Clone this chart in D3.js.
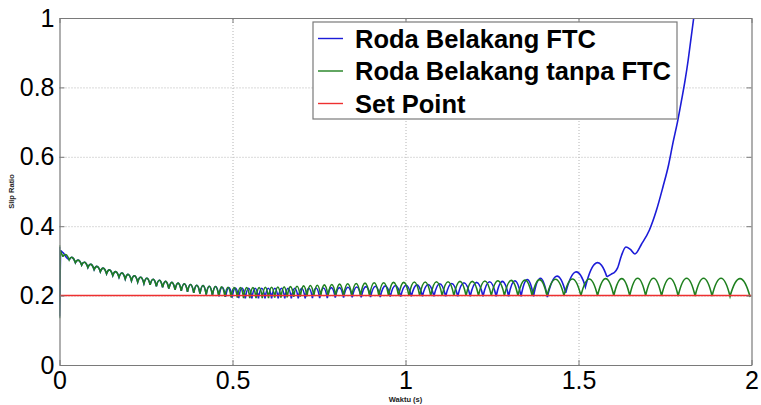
<!DOCTYPE html>
<html>
<head>
<meta charset="utf-8">
<script src="https://cdn.jsdelivr.net/npm/d3@7"></script>
<style>
  body { margin: 0; background: #fff; }
  svg { display: block; }
  text { font-family: "Liberation Sans", Arial, Helvetica, sans-serif; }
</style>
</head>
<body>
<svg id="chart" width="761" height="405"></svg>
<script>
// Axis ticks
const xTicks = [0, 0.5, 1, 1.5, 2];
const yTicks = [0, 0.2, 0.4, 0.6, 0.8, 1];

// Series names (legend order = drawing order)
const seriesNames = ["Roda Belakang FTC", "Roda Belakang tanpa FTC", "Set Point"];
const seriesColors = ["#1c1cd8", "#1f801f", "#ee3030"];

// Set point
const setPoint = [[0, 0.2], [2, 0.2]];

// Initial transient, drawn point to point: [time, slip]
const greenStart = [[0, 0.345], [0, 0.135], [0.002, 0.33], [0.010, 0.312]];
const blueStart = [[0, 0.34], [0, 0.14], [0.003, 0.33], [0.012, 0.322], [0.020, 0.31], [0.028, 0.303]];

// Oscillation cycles: [trough time, trough slip, following peak slip]
const greenCycles = [
  [0.010, 0.312, 0.318], [0.028, 0.303, 0.310], [0.046, 0.295, 0.302], [0.064, 0.288, 0.296],
  [0.082, 0.281, 0.290], [0.100, 0.275, 0.284], [0.118, 0.269, 0.279], [0.136, 0.263, 0.274],
  [0.154, 0.258, 0.269], [0.172, 0.253, 0.265], [0.190, 0.248, 0.261], [0.208, 0.243, 0.257],
  [0.226, 0.239, 0.253], [0.244, 0.235, 0.250], [0.262, 0.231, 0.247], [0.280, 0.227, 0.244],
  [0.298, 0.224, 0.241], [0.316, 0.220, 0.238], [0.334, 0.217, 0.236], [0.352, 0.214, 0.234],
  [0.370, 0.211, 0.232], [0.388, 0.208, 0.230], [0.406, 0.206, 0.229], [0.424, 0.203, 0.227],
  [0.442, 0.201, 0.226], [0.460, 0.199, 0.225], [0.478, 0.197, 0.224], [0.496, 0.195, 0.223],
  [0.514, 0.194, 0.223], [0.532, 0.193, 0.223], [0.550, 0.193, 0.223], [0.568, 0.193, 0.223],
  [0.586, 0.193, 0.224], [0.604, 0.193, 0.224], [0.622, 0.194, 0.225], [0.640, 0.194, 0.225],
  [0.658, 0.195, 0.226], [0.677, 0.196, 0.227], [0.696, 0.197, 0.228], [0.715, 0.198, 0.229],
  [0.735, 0.199, 0.230], [0.755, 0.200, 0.231], [0.776, 0.200, 0.232], [0.798, 0.200, 0.233],
  [0.821, 0.200, 0.234], [0.845, 0.200, 0.235], [0.870, 0.200, 0.236], [0.896, 0.200, 0.237],
  [0.923, 0.200, 0.237], [0.951, 0.200, 0.238], [0.980, 0.200, 0.238], [1.010, 0.200, 0.239],
  [1.041, 0.200, 0.239], [1.073, 0.200, 0.240], [1.106, 0.200, 0.240], [1.140, 0.200, 0.241],
  [1.175, 0.200, 0.241], [1.211, 0.200, 0.242], [1.248, 0.200, 0.243], [1.286, 0.200, 0.244],
  [1.325, 0.200, 0.245], [1.366, 0.200, 0.246], [1.409, 0.200, 0.247], [1.458, 0.200, 0.248],
  [1.507, 0.200, 0.248], [1.555, 0.200, 0.249], [1.602, 0.200, 0.249], [1.648, 0.200, 0.250],
  [1.694, 0.200, 0.250], [1.740, 0.199, 0.250], [1.788, 0.199, 0.250], [1.837, 0.199, 0.250],
  [1.886, 0.199, 0.250], [1.938, 0.198, 0.249], [1.996, 0.196, null]
];

const blueCycles = [
  [0.028, 0.303, 0.310], [0.046, 0.295, 0.302], [0.064, 0.288, 0.296],
  [0.082, 0.281, 0.290], [0.100, 0.275, 0.284], [0.118, 0.269, 0.279], [0.136, 0.263, 0.274],
  [0.154, 0.258, 0.269], [0.172, 0.253, 0.265], [0.190, 0.248, 0.261], [0.208, 0.243, 0.257],
  [0.226, 0.239, 0.253], [0.244, 0.235, 0.250], [0.262, 0.231, 0.247], [0.280, 0.227, 0.244],
  [0.298, 0.224, 0.241], [0.316, 0.220, 0.238], [0.334, 0.217, 0.236], [0.352, 0.214, 0.234],
  [0.370, 0.211, 0.232], [0.388, 0.208, 0.230], [0.406, 0.206, 0.229], [0.424, 0.203, 0.227],
  [0.442, 0.201, 0.226], [0.461, 0.198, 0.224], [0.480, 0.196, 0.223], [0.499, 0.194, 0.222],
  [0.518, 0.193, 0.222], [0.537, 0.192, 0.221], [0.556, 0.192, 0.221], [0.575, 0.192, 0.221],
  [0.594, 0.192, 0.221], [0.613, 0.192, 0.221], [0.632, 0.192, 0.221], [0.651, 0.192, 0.221],
  [0.670, 0.192, 0.221], [0.690, 0.192, 0.221], [0.710, 0.192, 0.221], [0.731, 0.193, 0.222],
  [0.752, 0.193, 0.222], [0.774, 0.193, 0.223], [0.797, 0.194, 0.223], [0.821, 0.194, 0.224],
  [0.846, 0.195, 0.225], [0.872, 0.195, 0.226], [0.899, 0.196, 0.227], [0.927, 0.196, 0.228],
  [0.956, 0.197, 0.229], [0.986, 0.197, 0.230], [1.017, 0.198, 0.231], [1.049, 0.198, 0.232],
  [1.082, 0.198, 0.234], [1.116, 0.198, 0.235], [1.151, 0.198, 0.237], [1.187, 0.198, 0.238],
  [1.224, 0.198, 0.240], [1.262, 0.198, 0.241], [1.298, 0.198, 0.243], [1.334, 0.198, 0.246],
  [1.370, 0.198, 0.250], [1.410, 0.196, 0.256], [1.463, 0.208, 0.268], [1.520, 0.225, 0.294],
  [1.582, 0.254, null]
];

// Final divergence of the FTC wheel: [time, slip]
const blueRise = [
  [1.582, 0.254], [1.595, 0.262], [1.605, 0.268], [1.613, 0.280], [1.624, 0.315],
  [1.637, 0.340], [1.650, 0.333], [1.663, 0.320], [1.682, 0.348], [1.705, 0.389],
  [1.725, 0.445], [1.744, 0.513], [1.760, 0.575], [1.773, 0.640], [1.786, 0.700],
  [1.798, 0.764], [1.808, 0.820], [1.817, 0.879], [1.825, 0.940], [1.833, 1.000], [1.838, 1.040]
];

const svg = d3.select("#chart");
const plot = { left: 59.5, right: 751.5, top: 18, bottom: 365 };
const x = d3.scaleLinear().domain([0, 2]).range([plot.left, plot.right]);
const y = d3.scaleLinear().domain([0, 1]).range([plot.bottom, plot.top]);
const W = plot.right - plot.left, H = plot.bottom - plot.top;

svg.append("rect").attr("width", 761).attr("height", 405).attr("fill", "#fff");

svg.append("clipPath").attr("id", "plotClip")
  .append("rect").attr("x", plot.left).attr("y", plot.top).attr("width", W).attr("height", H);

// Dotted grid
const grid = svg.append("g").attr("class", "grid");
grid.append("g").attr("transform", `translate(0,${plot.bottom})`)
  .call(d3.axisBottom(x).tickValues(xTicks.slice(1, -1)).tickSize(-H).tickFormat(""));
grid.append("g").attr("transform", `translate(${plot.left},0)`)
  .call(d3.axisLeft(y).tickValues(yTicks.slice(1, -1)).tickSize(-W).tickFormat(""));
grid.selectAll(".domain").remove();
grid.selectAll("line").attr("stroke", "#b4b4b4").attr("stroke-width", 1).attr("stroke-dasharray", "1,2");

// Series
const lines = svg.append("g").attr("clip-path", "url(#plotClip)").attr("fill", "none");
const linear = d3.line().x(d => x(d[0])).y(d => y(d[1]));
const smooth = d3.line().x(d => x(d[0])).y(d => y(d[1])).curve(d3.curveMonotoneX);

// Each cycle is drawn as an arch from trough to trough passing through the peak
function archPath(cycles) {
  const p = d3.path();
  p.moveTo(x(cycles[0][0]), y(cycles[0][1]));
  for (let i = 0; i < cycles.length - 1; i++) {
    const x0 = x(cycles[i][0]), y0 = y(cycles[i][1]);
    const x2 = x(cycles[i + 1][0]), y2 = y(cycles[i + 1][1]);
    const xm = (x0 + x2) / 2, ym = y(cycles[i][2]);
    p.quadraticCurveTo(xm, 2 * ym - (y0 + y2) / 2, x2, y2);
  }
  return p.toString();
}

const lw = 1.6;
// Roda Belakang FTC
lines.append("path").attr("d", linear(blueStart)).attr("stroke", seriesColors[0]).attr("stroke-width", lw);
lines.append("path").attr("d", archPath(blueCycles)).attr("stroke", seriesColors[0]).attr("stroke-width", lw);
lines.append("path").attr("d", smooth(blueRise)).attr("stroke", seriesColors[0]).attr("stroke-width", lw);
// Roda Belakang tanpa FTC
lines.append("path").attr("d", linear(greenStart)).attr("stroke", seriesColors[1]).attr("stroke-width", lw);
lines.append("path").attr("d", archPath(greenCycles)).attr("stroke", seriesColors[1]).attr("stroke-width", lw);
// Set Point
lines.append("path").attr("d", linear(setPoint)).attr("stroke", seriesColors[2]).attr("stroke-width", 1.5);

// Box and axes with inward ticks
const frameColor = "#7a7a7a";
const axes = svg.append("g");
axes.append("g").attr("transform", `translate(0,${plot.bottom})`)
  .call(d3.axisBottom(x).tickValues(xTicks).tickSizeInner(-5).tickSizeOuter(0).tickPadding(6).tickFormat(d3.format("~g")));
axes.append("g").attr("transform", `translate(0,${plot.top})`)
  .call(d3.axisTop(x).tickValues(xTicks).tickSizeInner(-5).tickSizeOuter(0).tickFormat(""));
axes.append("g").attr("transform", `translate(${plot.left},0)`)
  .call(d3.axisLeft(y).tickValues(yTicks).tickSizeInner(-5).tickSizeOuter(0).tickPadding(5).tickFormat(d3.format("~g")));
axes.append("g").attr("transform", `translate(${plot.right},0)`)
  .call(d3.axisRight(y).tickValues(yTicks).tickSizeInner(-5).tickSizeOuter(0).tickFormat(""));
axes.selectAll(".domain").attr("stroke", frameColor).attr("stroke-width", 1.2);
axes.selectAll(".tick line").attr("stroke", frameColor);
axes.selectAll(".tick text").attr("font-family", '"Liberation Sans", Arial, sans-serif')
  .attr("font-size", 25).attr("fill", "#000");

// Axis titles
svg.append("text").attr("x", x(1)).attr("y", 402).attr("text-anchor", "middle")
  .attr("font-size", 7.5).attr("font-weight", "bold").attr("fill", "#222").text("Waktu (s)");
svg.append("text").attr("transform", `translate(14,${(plot.top + plot.bottom) / 2}) rotate(-90)`)
  .attr("text-anchor", "middle").attr("font-size", 7.5).attr("font-weight", "bold").attr("fill", "#222").text("Slip Ratio");

// Legend
const legend = svg.append("g").attr("transform", "translate(313,22)");
legend.append("rect").attr("width", 364).attr("height", 97)
  .attr("fill", "#fff").attr("stroke", frameColor).attr("stroke-width", 1.2);
seriesNames.forEach((name, i) => {
  const row = 16.5 + i * 32.5;
  legend.append("line").attr("x1", 5).attr("x2", 30).attr("y1", row).attr("y2", row)
    .attr("stroke", seriesColors[i]).attr("stroke-width", 1.4);
  legend.append("text").attr("x", 42).attr("y", row).attr("dy", "0.36em")
    .attr("font-size", 25.5).attr("font-weight", "bold").attr("fill", "#000").text(name);
});
</script>
</body>
</html>
